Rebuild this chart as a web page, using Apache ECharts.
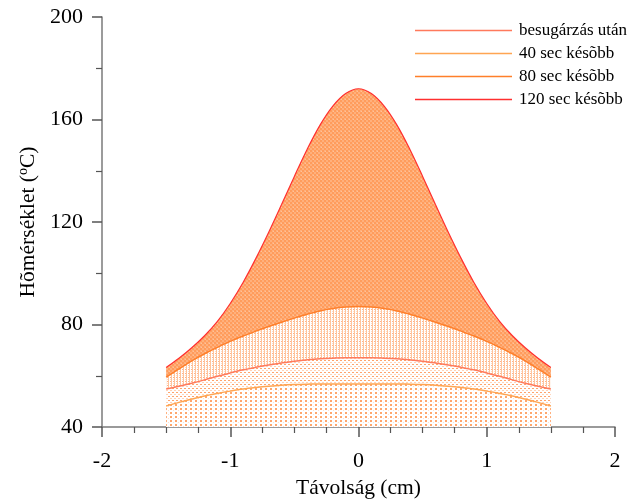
<!DOCTYPE html>
<html><head><meta charset="utf-8">
<script src="https://cdn.jsdelivr.net/npm/echarts@6/dist/echarts.min.js"></script>
<style>html,body{margin:0;padding:0;background:#fff}#c{width:635px;height:499px}</style>
</head><body><div id="c"></div>
<script>
// Distance (cm)
var xs = [-1.5,-1.4,-1.3,-1.2,-1.1,-1.0,-0.9,-0.8,-0.7,-0.6,-0.5,-0.4,-0.3,-0.2,-0.1,0,0.1,0.2,0.3,0.4,0.5,0.6,0.7,0.8,0.9,1.0,1.1,1.2,1.3,1.4,1.5];
// Temperatures (°C)
var curveTop = [63.2,66.8,70.9,75.6,81.2,88.2,96.4,105.8,116.0,126.8,137.8,148.4,157.8,165.2,170.1,172.0,170.1,165.2,157.8,148.4,137.8,126.8,116.0,105.8,96.4,88.2,81.2,75.6,70.9,66.8,63.2];
var curve2 = [59.5,62.7,65.8,68.6,71.1,73.4,75.5,77.4,79.2,80.9,82.5,84.0,85.3,86.2,86.8,87.0,86.8,86.2,85.3,84.0,82.5,80.9,79.2,77.4,75.5,73.4,71.1,68.6,65.8,62.7,59.5];
var curve3 = [54.8,55.9,57.1,58.4,59.8,61.1,62.3,63.3,64.2,65.0,65.7,66.2,66.6,66.85,67.0,67.0,67.0,66.85,66.6,66.2,65.7,65.0,64.2,63.3,62.3,61.1,59.8,58.4,57.1,55.9,54.8];
var curve4 = [48.2,49.6,50.9,52.1,53.1,54.0,54.8,55.4,55.9,56.3,56.55,56.7,56.8,56.8,56.8,56.8,56.8,56.8,56.8,56.7,56.55,56.3,55.9,55.4,54.8,54.0,53.1,52.1,50.9,49.6,48.2];
var legendNames = ['besugárzás után','40 sec késõbb','80 sec késõbb','120 sec késõbb'];
var xTicks = [-2,-1,0,1,2];
var yTicks = [40,80,120,160,200];

function pair(ys){ return xs.map(function(x,i){ return [x, ys[i]]; }); }

function pattern(w,h,bg,dots){
  var c=document.createElement('canvas'); c.width=w; c.height=h;
  var g=c.getContext('2d'); g.fillStyle=bg; g.fillRect(0,0,w,h);
  dots.forEach(function(d){ g.fillStyle=d[2]; g.fillRect(d[0],d[1],d[3]||1,d[4]||1); });
  return {image:c, repeat:'repeat'};
}
var patDense = pattern(4,4,'#ffb07c',[[0,0,'#ff9c5c',2,2],[2,2,'#ff9c5c',2,2],[1,3,'#ffc29a']]);
var patVert = pattern(3,4,'#ffffff',[[0,0,'#ffc49c',1,4],[2,1,'#ffb088'],[2,3,'#ffdcc6']]);
var patDots = pattern(4,4,'#ffffff',[[0,0,'#ffa46c',2,1],[2,2,'#ffd2b6',2,1]]);
var patDots2 = pattern(5,4,'#ffffff',[[0,0,'#ffa66c',2,2],[3,2,'#ffe0cc',1,1]]);

var font = "'Liberation Serif','Times New Roman',serif";
var chart = echarts.init(document.getElementById('c'), null, {renderer:'canvas'});
function ser(name, data, color, width, area){
  return {name:name, type:'line', data:pair(data), smooth:0.35, symbol:'none', color:color,
    lineStyle:{color:color, width:width}, areaStyle:{color:area, opacity:1, origin:'start'}};
}
chart.setOption({
  animation:false,
  backgroundColor:'#fff',
  textStyle:{fontFamily:font, color:'#000'},
  grid:{left:102, right:20, top:17, bottom:72, containLabel:false, outerBoundsMode:'none'},
  legend:{
    data:legendNames, orient:'vertical', left:410, top:17, icon:'rect',
    itemWidth:97, itemHeight:1.5, itemGap:6,
    textStyle:{fontFamily:font, fontSize:17, color:'#000', padding:[0,0,0,2]}
  },
  xAxis:{
    type:'value', min:-2, max:2, interval:1,
    name:'Távolság (cm)', nameLocation:'middle', nameGap:49,
    nameTextStyle:{fontFamily:font, fontSize:21.5, color:'#000'},
    axisLine:{onZero:false, lineStyle:{color:'#7a7a7a', width:1.5}},
    axisTick:{show:true, inside:false, length:10, lineStyle:{color:'#555', width:1.5}},
    minorTick:{show:true, splitNumber:4, length:6, lineStyle:{color:'#555', width:1.2}},
    splitLine:{show:false},
    axisLabel:{fontFamily:font, fontSize:22, color:'#000', margin:23,
      formatter:function(v){ return xTicks.indexOf(v)>=0 ? String(v) : ''; }}
  },
  yAxis:{
    type:'value', min:40, max:200, interval:40,
    name:'Hõmérséklet ({sup|o}C)', nameLocation:'middle', nameGap:62, nameRotate:90,
    nameTextStyle:{fontFamily:font, fontSize:21.5, color:'#000',
      rich:{sup:{fontFamily:font, fontSize:14, color:'#000', verticalAlign:'top', padding:[0,0,9,0]}}},
    axisLine:{show:true, onZero:false, lineStyle:{color:'#7a7a7a', width:1.5}},
    axisTick:{show:true, inside:false, length:10, lineStyle:{color:'#555', width:1.5}},
    minorTick:{show:true, splitNumber:2, length:6, lineStyle:{color:'#555', width:1.2}},
    splitLine:{show:false},
    axisLabel:{fontFamily:font, fontSize:22, color:'#000', margin:19,
      formatter:function(v){ return yTicks.indexOf(v)>=0 ? String(v) : ''; }}
  },
  series:[
    ser(legendNames[3], curveTop, '#ff2f2f', 1.2, patDense),
    ser(legendNames[2], curve2, '#ff7f2a', 1.5, patVert),
    ser(legendNames[0], curve3, '#ff7a5c', 1.5, patDots),
    ser(legendNames[1], curve4, '#ffa552', 1.5, patDots2)
  ]
});
</script></body></html>
